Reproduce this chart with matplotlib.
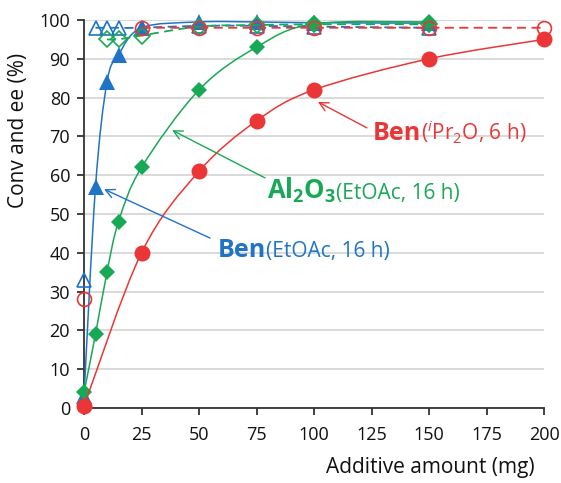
import numpy as np
import matplotlib
matplotlib.use("Agg")
import matplotlib.pyplot as plt
from matplotlib.path import Path
from matplotlib.patches import PathPatch
from matplotlib.offsetbox import TextArea, HPacker, AnnotationBbox

plt.rcParams['font.family'] = ['Open Sans', 'DejaVu Sans']
plt.rcParams['mathtext.fontset'] = 'custom'
plt.rcParams['mathtext.rm'] = 'Open Sans'
plt.rcParams['mathtext.it'] = 'Open Sans:italic'
plt.rcParams['mathtext.bf'] = 'Open Sans:bold'

# ---------------- data ----------------
ben_etoac_x = [0, 5, 10, 15, 25, 50, 75, 100, 150]
ben_etoac_conv = [3, 57, 84, 91, 98, 99.5, 99.5, 99.3, 99.2]
ben_etoac_ee = [33, 98, 98, 98, 98, 98.5, 98.5, 98.3, 98]

al2o3_x = [0, 5, 10, 15, 25, 50, 75, 100, 150]
al2o3_conv = [4, 19, 35, 48, 62, 82, 93, 99, 99.5]
al2o3_ee_x = [10, 15, 25, 50, 75, 100, 150]
al2o3_ee = [95, 95, 96, 98.3, 98.7, 98.9, 98.9]

ben_ipr_x = [0, 25, 50, 75, 100, 150, 200]
ben_ipr_conv = [0.5, 40, 61, 74, 82, 90, 95]
ben_ipr_ee = [28, 98, 98, 98, 98, 98, 98]

x_ticks = [0, 25, 50, 75, 100, 125, 150, 175, 200]
y_ticks = [0, 10, 20, 30, 40, 50, 60, 70, 80, 90, 100]

BLUE = '#1f74c6'
GREEN = '#17a955'
RED = '#ea3636'


def smooth_path(xs, ys):
    pts = np.column_stack([xs, ys]).astype(float)
    n = len(pts)
    verts = [pts[0]]
    codes = [Path.MOVETO]
    for i in range(n - 1):
        p0 = pts[i - 1] if i > 0 else pts[i]
        p1 = pts[i]
        p2 = pts[i + 1]
        p3 = pts[i + 2] if i + 2 < n else pts[i + 1]
        c1 = p1 + (p2 - p0) / 6.0
        c2 = p2 - (p3 - p1) / 6.0
        verts += [c1, c2, p2]
        codes += [Path.CURVE4] * 3
    return Path(verts, codes)


fig = plt.figure(figsize=(5.61, 4.83), dpi=100)
ax = fig.add_axes([84 / 561, 1 - 408 / 483, 460 / 561, 388 / 483])

ax.set_xlim(0, 200)
ax.set_ylim(0, 100)
ax.set_xticks(x_ticks)
ax.set_yticks(y_ticks)
ax.set_xticklabels([str(v) for v in x_ticks])
ax.set_yticklabels([str(v) for v in y_ticks])
ax.grid(axis='y', color='#d9d9d9', lw=1.4, zorder=0)
ax.set_axisbelow(True)
for s in ['top', 'right']:
    ax.spines[s].set_visible(False)
for s in ['left', 'bottom']:
    ax.spines[s].set_color('#333333')
    ax.spines[s].set_linewidth(1.3)
ax.tick_params(axis='both', direction='out', length=5, width=1.3, color='#333333',
               labelsize=13, labelcolor='#111111')
ax.tick_params(axis='x', pad=8)
ax.tick_params(axis='y', pad=5)


def draw_series(x, y, color, marker, ms, filled, dashed, z, skip_first_line=False):
    xs, ys = (x[1:], y[1:]) if skip_first_line else (x, y)
    p = smooth_path(xs, ys)
    patch = PathPatch(p, facecolor='none', edgecolor=color, lw=1.1 if not dashed else 1.3,
                      linestyle=(0, (5, 3)) if dashed else '-', zorder=z, clip_on=False)
    ax.add_patch(patch)
    if filled:
        ax.plot(x, y, ls='none', marker=marker, ms=ms, mfc=color, mec=color, mew=0,
                zorder=z + 0.5, clip_on=False)
    else:
        ax.plot(x, y, ls='none', marker=marker, ms=ms, mfc='none', mec=color, mew=1.2,
                zorder=z + 0.5, clip_on=False)


# blue: Ben (EtOAc)
draw_series(ben_etoac_x, ben_etoac_ee, BLUE, '^', 10, False, True, 3, skip_first_line=True)
draw_series(ben_etoac_x, ben_etoac_conv, BLUE, '^', 11, True, False, 3)
# green: Al2O3
draw_series(al2o3_ee_x, al2o3_ee, GREEN, 'D', 8, False, True, 5)
draw_series(al2o3_x, al2o3_conv, GREEN, 'D', 8.5, True, False, 5)
# red: Ben (iPr2O)
draw_series(ben_ipr_x, ben_ipr_ee, RED, 'o', 10, False, True, 7, skip_first_line=True)
draw_series(ben_ipr_x, ben_ipr_conv, RED, 'o', 11.5, True, False, 7)


def label(parts, xy, color):
    boxes = []
    for txt, size, weight in parts:
        boxes.append(TextArea(txt, textprops=dict(color=color, fontsize=size, fontweight=weight)))
    pack = HPacker(children=boxes, align='baseline', pad=0, sep=0)
    ab = AnnotationBbox(pack, xy, xycoords='data', box_alignment=(0, 0.5), frameon=False,
                        pad=0, zorder=10)
    ax.add_artist(ab)


label([('Ben', 18, 'bold'), ('($^{i}$Pr$_2$O, 6 h)', 15, 'normal')], (125.7, 71.0), RED)
label([(r'$\mathbf{Al_2O_3}$', 18.5, 'bold'), ('(EtOAc, 16 h)', 15, 'normal')], (79.6, 56.0), GREEN)
label([('Ben', 18, 'bold'), ('(EtOAc, 16 h)', 15, 'normal')], (58.3, 40.5), BLUE)

arrow_kw = dict(arrowstyle='->', lw=1.0, mutation_scale=16, shrinkA=0, shrinkB=0)
ax.annotate('', xy=(101.7, 78.9), xytext=(123.0, 72.2),
            arrowprops=dict(color=RED, **arrow_kw), zorder=9)
ax.annotate('', xy=(38.3, 71.6), xytext=(78.7, 59.3),
            arrowprops=dict(color=GREEN, **arrow_kw), zorder=9)
ax.annotate('', xy=(8.7, 56.4), xytext=(54.8, 43.8),
            arrowprops=dict(color=BLUE, **arrow_kw), zorder=9)

fig.text(19 / 561, 1 - 130 / 483, 'Conv and ee (%)', rotation=90, ha='center', va='center',
         fontsize=15, color='#111111')
fig.text(535 / 561, 1 - 468 / 483, 'Additive amount (mg)', ha='right', va='center',
         fontsize=15, color='#111111')

fig.savefig('out.png', dpi=100)
